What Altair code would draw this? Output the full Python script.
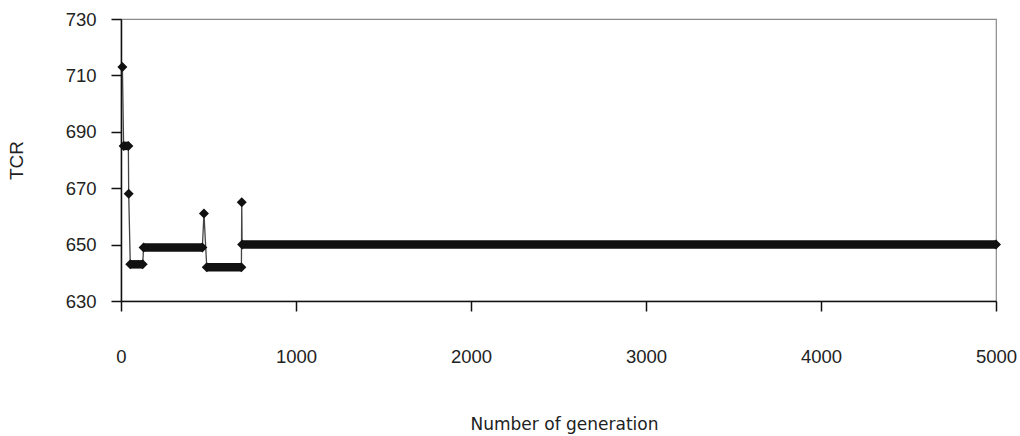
import altair as alt
import pandas as pd

# Best TCR found by the GA, as a step path (generation, value)
generations = [8, 15, 42, 44, 53, 124, 129, 465, 474, 490, 688, 690, 692, 5000]
tcr_values = [713, 685, 685, 668, 643, 643, 649, 649, 661, 642, 642, 665, 650, 650]

x_ticks = [0, 1000, 2000, 3000, 4000, 5000]
y_ticks = [630, 650, 670, 690, 710, 730]

path = pd.DataFrame({"gen": generations, "tcr": tcr_values, "order": range(len(generations))})

# Plateaus: consecutive points with the same value are drawn as a thick band
plateaus = pd.DataFrame(
    [
        {"start": generations[i], "end": generations[i + 1], "tcr": tcr_values[i]}
        for i in range(len(generations) - 1)
        if tcr_values[i] == tcr_values[i + 1]
    ]
)

x_scale = alt.Scale(domain=[0, 5000], nice=False, zero=False)
y_scale = alt.Scale(domain=[630, 730], nice=False, zero=False)

x_axis = alt.Axis(
    values=x_ticks,
    format="d",
    labelFlush=False,
    title="Number of generation",
    grid=False,
    tickSize=10,
    labelPadding=36,
    titleY=123,
    titleX=443,
    titleBaseline="middle",
    titleFont="DejaVu Sans",
    titleFontSize=17,
)
y_axis = alt.Axis(
    values=y_ticks,
    format="d",
    title="TCR",
    grid=False,
    tickSize=10,
    labelPadding=15,
    titleX=-105,
    titleY=141,
    titleBaseline="middle",
    titleAngle=-90,
    titleFont="Liberation Sans",
    titleFontSize=19,
)

line = (
    alt.Chart(path)
    .mark_line(color="#444444", strokeWidth=1.3)
    .encode(
        x=alt.X("gen:Q", scale=x_scale, axis=x_axis),
        y=alt.Y("tcr:Q", scale=y_scale, axis=y_axis),
        order="order:Q",
    )
)

bands = (
    alt.Chart(plateaus)
    .mark_rule(color="#111111", strokeWidth=8.5)
    .encode(
        x=alt.X("start:Q", scale=x_scale),
        x2="end:Q",
        y=alt.Y("tcr:Q", scale=y_scale),
    )
)

markers = (
    alt.Chart(path)
    .mark_point(shape="diamond", filled=True, size=100, color="#111111", opacity=1)
    .encode(
        x=alt.X("gen:Q", scale=x_scale),
        y=alt.Y("tcr:Q", scale=y_scale),
    )
)

chart = (
    alt.layer(line, bands, markers)
    .properties(
        width=875,
        height=282,
        autosize=alt.AutoSizeParams(type="none"),
        padding={"left": 121, "top": 19, "right": 24, "bottom": 135},
        background="white",
    )
    .configure_view(stroke="#8a8a8a", strokeWidth=1.2)
    .configure_axis(
        domainColor="#111111",
        domainWidth=1.5,
        tickColor="#111111",
        tickWidth=1.5,
        labelFont="Liberation Sans",
        labelFontSize=18.5,
        labelColor="#222222",
        titleFontWeight="normal",
        titleColor="#222222",
    )
)

chart.save("out.html", embed_options={"renderer": "svg", "actions": False})
